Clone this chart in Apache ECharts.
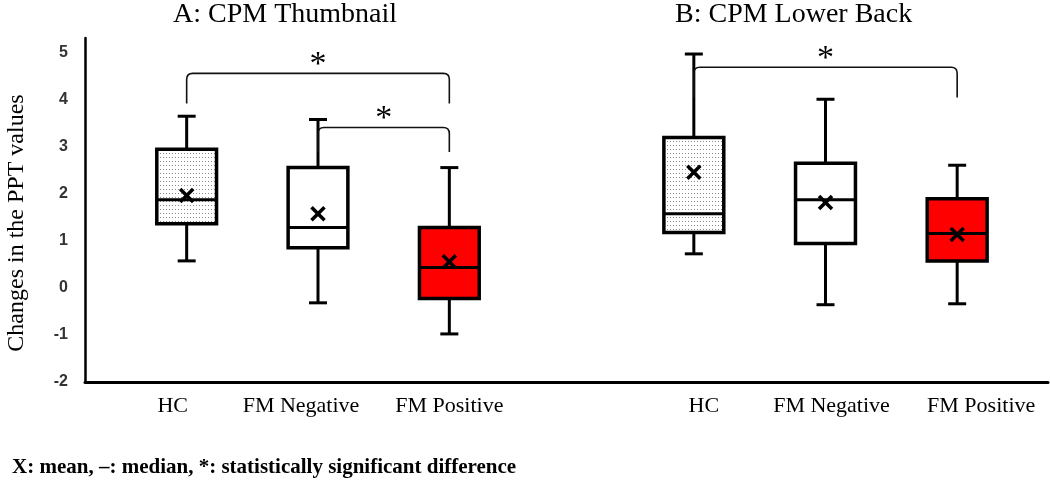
<!DOCTYPE html>
<html>
<head>
<meta charset="utf-8">
<script src="https://cdn.jsdelivr.net/npm/echarts@6/dist/echarts.min.js"></script>
<style>html,body{margin:0;padding:0;background:#fff;}#c{width:1050px;height:481px;}</style>
</head>
<body>
<div id="c"></div>
<script>
// ---- data ----
const categories = ['HC', 'FM Negative', 'FM Positive'];
const panelTitles = ['A: CPM Thumbnail', 'B: CPM Lower Back'];
const yTicks = [-2, -1, 0, 1, 2, 3, 4, 5];
// each row: [min, Q1, median, Q3, max, mean]
const thumbHC     = [0.57, 1.36, 1.87, 2.94, 3.64, 1.96];
const thumbFMNeg  = [-0.32, 0.85, 1.28, 2.55, 3.57, 1.57];
const thumbFMPos  = [-0.98, -0.23, 0.43, 1.28, 2.55, 0.55];
const backHC      = [0.72, 1.17, 1.57, 3.19, 4.96, 2.45];
const backFMNeg   = [-0.36, 0.94, 1.87, 2.64, 4.00, 1.81];
const backFMPos   = [-0.34, 0.57, 1.15, 1.89, 2.60, 1.13];
// significance brackets: [fromCategory, toCategory, barValue, legEndValue]
const thumbBrackets = [[0, 2, 4.55, 3.91], [1, 2, 3.40, 2.88]];
const backBrackets  = [[0, 2, 4.68, 4.04]];
const footnote = 'X: mean, \u2013: median, *: statistically significant difference';

// ---- styles ----
const serif = 'Liberation Serif';
function dotPattern() {
  const c = document.createElement('canvas');
  c.width = 3; c.height = 4;
  const g = c.getContext('2d');
  g.fillStyle = '#ffffff'; g.fillRect(0, 0, 3, 4);
  g.fillStyle = '#8a8a8a'; g.fillRect(1, 1, 1, 1);
  return c;
}
const fills = [{ image: dotPattern(), repeat: 'repeat' }, '#ffffff', '#ff0000'];

function renderBox(params, api) {
  const i = api.value(0);
  const lo = api.coord([i, api.value(1)]);
  const q1 = api.coord([i, api.value(2)]);
  const md = api.coord([i, api.value(3)]);
  const q3 = api.coord([i, api.value(4)]);
  const hi = api.coord([i, api.value(5)]);
  const mn = api.coord([i, api.value(6)]);
  const band = api.size([1, 0])[0];
  const bw = band * 0.455, cw = 18, m = 6.5;
  const cx = lo[0];
  const ls = { stroke: '#000', lineWidth: 3 };
  return {
    type: 'group',
    children: [
      { type: 'line', shape: { x1: cx, y1: lo[1], x2: cx, y2: q1[1] }, style: ls },
      { type: 'line', shape: { x1: cx, y1: q3[1], x2: cx, y2: hi[1] }, style: ls },
      { type: 'line', shape: { x1: cx - cw / 2, y1: lo[1], x2: cx + cw / 2, y2: lo[1] }, style: ls },
      { type: 'line', shape: { x1: cx - cw / 2, y1: hi[1], x2: cx + cw / 2, y2: hi[1] }, style: ls },
      { type: 'rect', shape: { x: cx - bw / 2, y: q3[1], width: bw, height: q1[1] - q3[1] },
        style: { fill: fills[params.dataIndex], stroke: '#000', lineWidth: 3.5 } },
      { type: 'line', shape: { x1: cx - bw / 2, y1: md[1], x2: cx + bw / 2, y2: md[1] }, style: ls },
      { type: 'line', shape: { x1: cx - m, y1: mn[1] - m, x2: cx + m, y2: mn[1] + m }, style: { stroke: '#000', lineWidth: 3.5 } },
      { type: 'line', shape: { x1: cx - m, y1: mn[1] + m, x2: cx + m, y2: mn[1] - m }, style: { stroke: '#000', lineWidth: 3.5 } }
    ]
  };
}

function renderBracket(params, api) {
  const a = api.coord([api.value(0), api.value(2)]);
  const b = api.coord([api.value(1), api.value(2)]);
  const legY = api.coord([api.value(0), api.value(3)])[1];
  const y = a[1], r = 6;
  const d = 'M' + a[0] + ' ' + legY + ' L' + a[0] + ' ' + (y + r) +
    ' Q' + a[0] + ' ' + y + ' ' + (a[0] + r) + ' ' + y +
    ' L' + (b[0] - r) + ' ' + y + ' Q' + b[0] + ' ' + y + ' ' + b[0] + ' ' + (y + r) +
    ' L' + b[0] + ' ' + legY;
  return {
    type: 'group',
    children: [
      { type: 'path', shape: { pathData: d }, style: { fill: 'none', stroke: '#111', lineWidth: 1.6 } },
      { type: 'text', style: { text: '*', x: (a[0] + b[0]) / 2, y: y - 8, fill: '#000',
        font: '34px ' + serif, textAlign: 'center', textVerticalAlign: 'middle' } }
    ]
  };
}

function boxData(rows) { return rows.map((r, i) => [i].concat(r)); }

const labelShift = [[-14, -17, 0], [10, 6, 24]];
function makeRich(g) {
  const rich = {};
  labelShift[g].forEach((d, i) => {
    rich['k' + i] = {
      fontFamily: serif, fontSize: 22, color: '#000',
      padding: d < 0 ? [0, -2 * d, 0, 0] : [0, 0, 0, 2 * d]
    };
  });
  return rich;
}

const yRange = { min: yTicks[0], max: 5.3 };
const gridTop = 38, gridBottom = 99;

const chart = echarts.init(document.getElementById('c'), null, { renderer: 'canvas' });
const option = {
  animation: false,
  backgroundColor: '#fff',
  title: [
    { text: panelTitles[0], left: 173, top: 1, padding: 0,
      textStyle: { fontFamily: serif, fontSize: 28, fontWeight: 'normal', color: '#000' } },
    { text: panelTitles[1], left: 675, top: 1, padding: 0,
      textStyle: { fontFamily: serif, fontSize: 28, fontWeight: 'normal', color: '#000' } },
    { text: footnote, left: 12, top: 457, padding: 0,
      textStyle: { fontFamily: serif, fontSize: 21, fontWeight: 'bold', color: '#000' } }
  ],
  grid: [
    { left: 85, right: 2, top: gridTop, bottom: gridBottom, outerBoundsMode: 'none', containLabel: false },
    { left: 121, width: 394, top: gridTop, bottom: gridBottom, outerBoundsMode: 'none', containLabel: false },
    { left: 628, width: 395, top: gridTop, bottom: gridBottom, outerBoundsMode: 'none', containLabel: false }
  ],
  xAxis: [
    { gridIndex: 0, type: 'value', min: 0, max: 1,
      axisLine: { show: true, onZero: false, lineStyle: { color: '#000', width: 3 } },
      axisTick: { show: false }, axisLabel: { show: false }, splitLine: { show: false } },
    { gridIndex: 1, type: 'category', data: categories,
      axisLine: { show: false }, axisTick: { show: false }, splitLine: { show: false },
      axisLabel: { margin: 13, formatter: (v, i) => '{k' + i + '|' + v + '}', rich: makeRich(0) } },
    { gridIndex: 2, type: 'category', data: categories,
      axisLine: { show: false }, axisTick: { show: false }, splitLine: { show: false },
      axisLabel: { margin: 13, formatter: (v, i) => '{k' + i + '|' + v + '}', rich: makeRich(1) } }
  ],
  yAxis: [
    { gridIndex: 0, type: 'value', min: yRange.min, max: yRange.max, interval: 1,
      axisLine: { show: true, lineStyle: { color: '#000', width: 2.5 } },
      axisTick: { show: false }, splitLine: { show: false },
      axisLabel: { margin: 17, fontFamily: 'Liberation Sans', fontWeight: 'bold', fontSize: 16, color: '#333',
        formatter: v => (yTicks.indexOf(v) >= 0 ? String(v) : '') },
      name: 'Changes in the PPT values', nameLocation: 'middle', nameRotate: 90, nameGap: 56,
      nameTextStyle: { fontFamily: serif, fontSize: 24, color: '#000', padding: [0, 26, 0, 0] } },
    { gridIndex: 1, type: 'value', min: yRange.min, max: yRange.max, show: false },
    { gridIndex: 2, type: 'value', min: yRange.min, max: yRange.max, show: false }
  ],
  series: [
    { type: 'custom', xAxisIndex: 1, yAxisIndex: 1, renderItem: renderBox,
      data: boxData([thumbHC, thumbFMNeg, thumbFMPos]), encode: { x: 0, y: [1, 2, 3, 4, 5, 6] } },
    { type: 'custom', xAxisIndex: 2, yAxisIndex: 2, renderItem: renderBox,
      data: boxData([backHC, backFMNeg, backFMPos]), encode: { x: 0, y: [1, 2, 3, 4, 5, 6] } },
    { type: 'custom', xAxisIndex: 1, yAxisIndex: 1, renderItem: renderBracket,
      data: thumbBrackets, encode: { x: [0, 1], y: [2, 3] } },
    { type: 'custom', xAxisIndex: 2, yAxisIndex: 2, renderItem: renderBracket,
      data: backBrackets, encode: { x: [0, 1], y: [2, 3] } }
  ]
};
chart.setOption(option);
</script>
</body>
</html>
